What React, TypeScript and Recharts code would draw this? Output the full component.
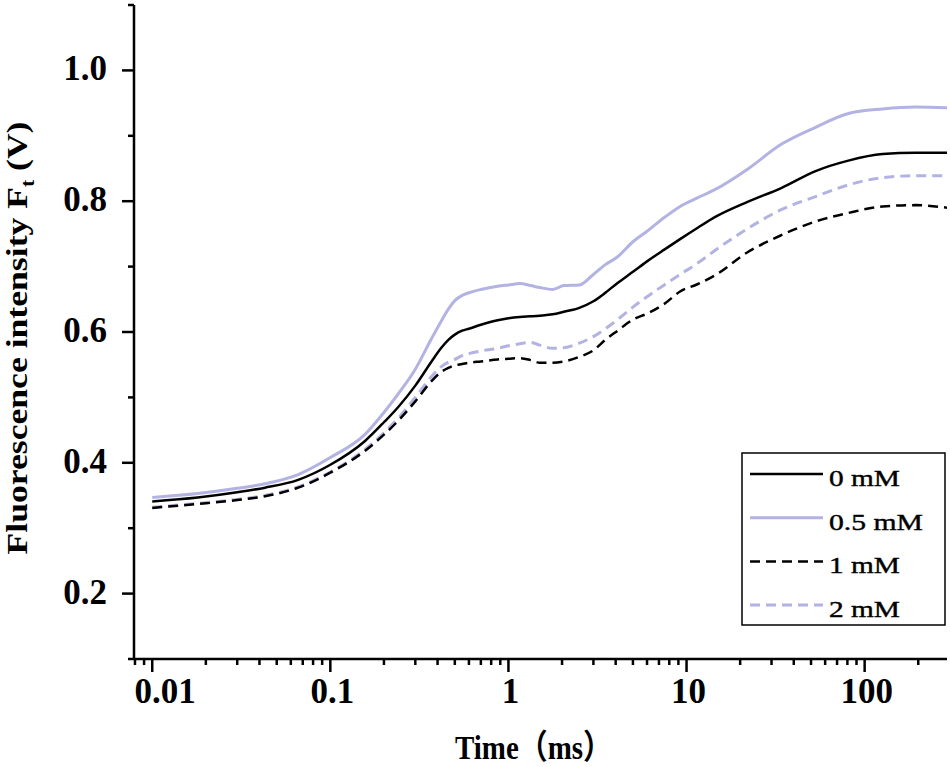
import { LineChart, Line, XAxis, YAxis, Legend } from "recharts";

// time (ms) and fluorescence Ft (V)
const times = [0.01, 0.018, 0.03, 0.043, 0.066, 0.1, 0.156, 0.2, 0.24, 0.3, 0.37, 0.42, 0.46, 0.5, 0.55, 0.6, 0.7, 0.87, 1, 1.16, 1.33, 1.5, 1.77, 2.05, 2.5, 3, 3.5, 4.1, 5, 6, 7.5, 9.2, 11.5, 14.5, 22, 34, 53, 81, 126, 194, 290];
const conc0 = [0.341, 0.347, 0.355, 0.362, 0.374, 0.397, 0.433, 0.462, 0.485, 0.518, 0.555, 0.576, 0.588, 0.596, 0.602, 0.605, 0.611, 0.618, 0.621, 0.623, 0.624, 0.625, 0.627, 0.631, 0.637, 0.647, 0.66, 0.675, 0.692, 0.708, 0.726, 0.742, 0.759, 0.776, 0.799, 0.82, 0.846, 0.862, 0.872, 0.874, 0.874];
const conc05 = [0.347, 0.353, 0.361, 0.368, 0.382, 0.408, 0.443, 0.477, 0.505, 0.543, 0.59, 0.617, 0.635, 0.648, 0.656, 0.66, 0.665, 0.67, 0.672, 0.674, 0.671, 0.668, 0.665, 0.671, 0.672, 0.688, 0.703, 0.715, 0.738, 0.754, 0.775, 0.792, 0.805, 0.818, 0.849, 0.887, 0.913, 0.934, 0.941, 0.944, 0.943];
const conc1 = [0.331, 0.337, 0.343, 0.349, 0.362, 0.385, 0.418, 0.443, 0.464, 0.494, 0.525, 0.539, 0.545, 0.549, 0.551, 0.553, 0.555, 0.558, 0.559, 0.56, 0.557, 0.553, 0.553, 0.555, 0.562, 0.572, 0.588, 0.602, 0.619, 0.628, 0.643, 0.662, 0.673, 0.687, 0.722, 0.748, 0.769, 0.782, 0.792, 0.794, 0.79];
const conc2 = [0.332, 0.338, 0.344, 0.35, 0.363, 0.386, 0.42, 0.446, 0.468, 0.5, 0.532, 0.547, 0.554, 0.558, 0.564, 0.567, 0.571, 0.575, 0.579, 0.582, 0.584, 0.58, 0.575, 0.576, 0.583, 0.593, 0.605, 0.619, 0.638, 0.654, 0.672, 0.688, 0.705, 0.725, 0.758, 0.787, 0.807, 0.825, 0.836, 0.839, 0.839];
const seriesNames = ["0 mM", "0.5 mM", "1 mM", "2 mM"];

const xTicks = [0.008, 0.009, 0.01, 0.02, 0.03, 0.04, 0.05, 0.06, 0.07, 0.08, 0.09, 0.1, 0.2, 0.3, 0.4, 0.5, 0.6, 0.7, 0.8, 0.9, 1, 2, 3, 4, 5, 6, 7, 8, 9, 10, 20, 30, 40, 50, 60, 70, 80, 90, 100, 200];
const xMajor = [0.01, 0.1, 1, 10, 100];
const xLabels = ["0.01", "0.1", "1", "10", "100"];
const yTicks = [0.1, 0.2, 0.3, 0.4, 0.5, 0.6, 0.7, 0.8, 0.9, 1.0, 1.1];
const yMajor = [0.2, 0.4, 0.6, 0.8, 1.0];
const yLabels = ["0.2", "0.4", "0.6", "0.8", "1.0"];

const serif = '"Liberation Serif", "Times New Roman", serif';
const lavender = "#b3b3e3";

const rows = times.map((t, i) => ({
  t,
  c0: conc0[i],
  c05: conc05[i],
  c1: conc1[i],
  c2: conc2[i],
}));

const XTick = ({ x, y, payload }: any) => {
  const i = xMajor.indexOf(payload.value);
  const major = i >= 0;
  return (
    <g>
      <line x1={x} x2={x} y1={y} y2={y + (major ? 13 : 6)} stroke="#000" strokeWidth={2.5} />
      {major && (
        <text x={x + (i === 0 ? 13 : 2)} y={y + 44} textAnchor="middle" fontFamily={serif} fontWeight="bold" fontSize={35} fill="#000">
          {xLabels[i]}
        </text>
      )}
    </g>
  );
};

const YTick = ({ x, y, payload }: any) => {
  const i = yMajor.indexOf(payload.value);
  const major = i >= 0;
  return (
    <g>
      <line x1={x - (major ? 12 : 6)} x2={x} y1={y} y2={y} stroke="#000" strokeWidth={2.5} />
      {major && (
        <text x={x - 27} y={y + 10} textAnchor="end" fontFamily={serif} fontWeight="bold" fontSize={35} fill="#000">
          {yLabels[i]}
        </text>
      )}
    </g>
  );
};

const YTitle = ({ viewBox }: any) => {
  const cx = viewBox.x + 27;
  const cy = viewBox.y + viewBox.height / 2 + 6;
  return (
    <text
      transform={`translate(${cx},${cy}) rotate(-90)`}
      textAnchor="middle"
      fontFamily={serif}
      fontWeight="bold"
      fontSize={30}
      fill="#000"
      textLength={433}
      lengthAdjust="spacingAndGlyphs"
    >
      Fluorescence intensity F
      <tspan fontSize={18} dy={7}>t</tspan>
      <tspan dy={-7}> (V)</tspan>
    </text>
  );
};

const XTitle = ({ viewBox }: any) => (
  <text
    x={viewBox.x + viewBox.width / 2 - 7}
    y={viewBox.y + 100}
    textAnchor="middle"
    fontFamily={`"Liberation Serif", "Times New Roman", "Noto Sans CJK SC", serif`}
    fontWeight="bold"
    fontSize={34}
    fill="#000"
    textLength={157}
    lengthAdjust="spacingAndGlyphs"
  >
    Time（ms）
  </text>
);

const LegendBox = ({ payload }: any) => {
  const items = [...(payload || [])].sort((a: any, b: any) => seriesNames.indexOf(a.value) - seriesNames.indexOf(b.value));
  return (
    <svg width={205} height={175}>
      <rect x={1} y={1} width={203} height={172} fill="#fff" stroke="#000" strokeWidth={1.5} />
      {items.map((p: any, i: number) => {
        const cy = 22 + i * 43.7;
        const props = p.payload || {};
        return (
          <g key={p.value}>
            <line x1={9} x2={82} y1={cy} y2={cy} stroke={p.color} strokeWidth={props.strokeWidth || 2.5} strokeDasharray={props.strokeDasharray} />
            <text
              x={88}
              y={cy + 12}
              fontFamily={serif}
              fontSize={24}
              fill="#000"
              stroke="#000"
              strokeWidth={0.4}
              textLength={p.value.length > 4 ? 94 : 71}
              lengthAdjust="spacingAndGlyphs"
            >
              {p.value}
            </text>
          </g>
        );
      })}
    </svg>
  );
};

export default function App() {
  return (
    <div style={{ position: "absolute", left: 0, top: 0, background: "#fff" }}>
      <LineChart width={950} height={767} data={rows} margin={{ top: 5, right: 3, bottom: 0, left: 0 }}>
        <XAxis
          dataKey="t"
          type="number"
          scale="log"
          domain={[0.0079, 290]}
          allowDataOverflow
          ticks={xTicks}
          interval={0}
          tick={<XTick />}
          tickLine={false}
          tickSize={0}
          tickMargin={0}
          axisLine={{ stroke: "#000", strokeWidth: 2.5 }}
          height={108}
          label={<XTitle />}
        />
        <YAxis
          type="number"
          domain={[0.1, 1.1]}
          allowDataOverflow
          ticks={yTicks}
          interval={0}
          tick={<YTick />}
          tickLine={false}
          tickSize={0}
          tickMargin={0}
          axisLine={{ stroke: "#000", strokeWidth: 2.5 }}
          width={134}
          label={<YTitle />}
        />
        <Legend layout="vertical" align="center" verticalAlign="middle" content={<LegendBox />} wrapperStyle={{ position: "absolute", left: 741, top: 452, width: 205, height: 175 }} />
        <Line name={seriesNames[1]} dataKey="c05" type="monotone" stroke={lavender} strokeWidth={3} dot={false} activeDot={false} isAnimationActive={false} />
        <Line name={seriesNames[3]} dataKey="c2" type="monotone" stroke={lavender} strokeWidth={3} strokeDasharray="10 6" dot={false} activeDot={false} isAnimationActive={false} />
        <Line name={seriesNames[0]} dataKey="c0" type="monotone" stroke="#000" strokeWidth={2.5} dot={false} activeDot={false} isAnimationActive={false} />
        <Line name={seriesNames[2]} dataKey="c1" type="monotone" stroke="#000" strokeWidth={2.5} strokeDasharray="10 6" dot={false} activeDot={false} isAnimationActive={false} />
      </LineChart>
    </div>
  );
}
